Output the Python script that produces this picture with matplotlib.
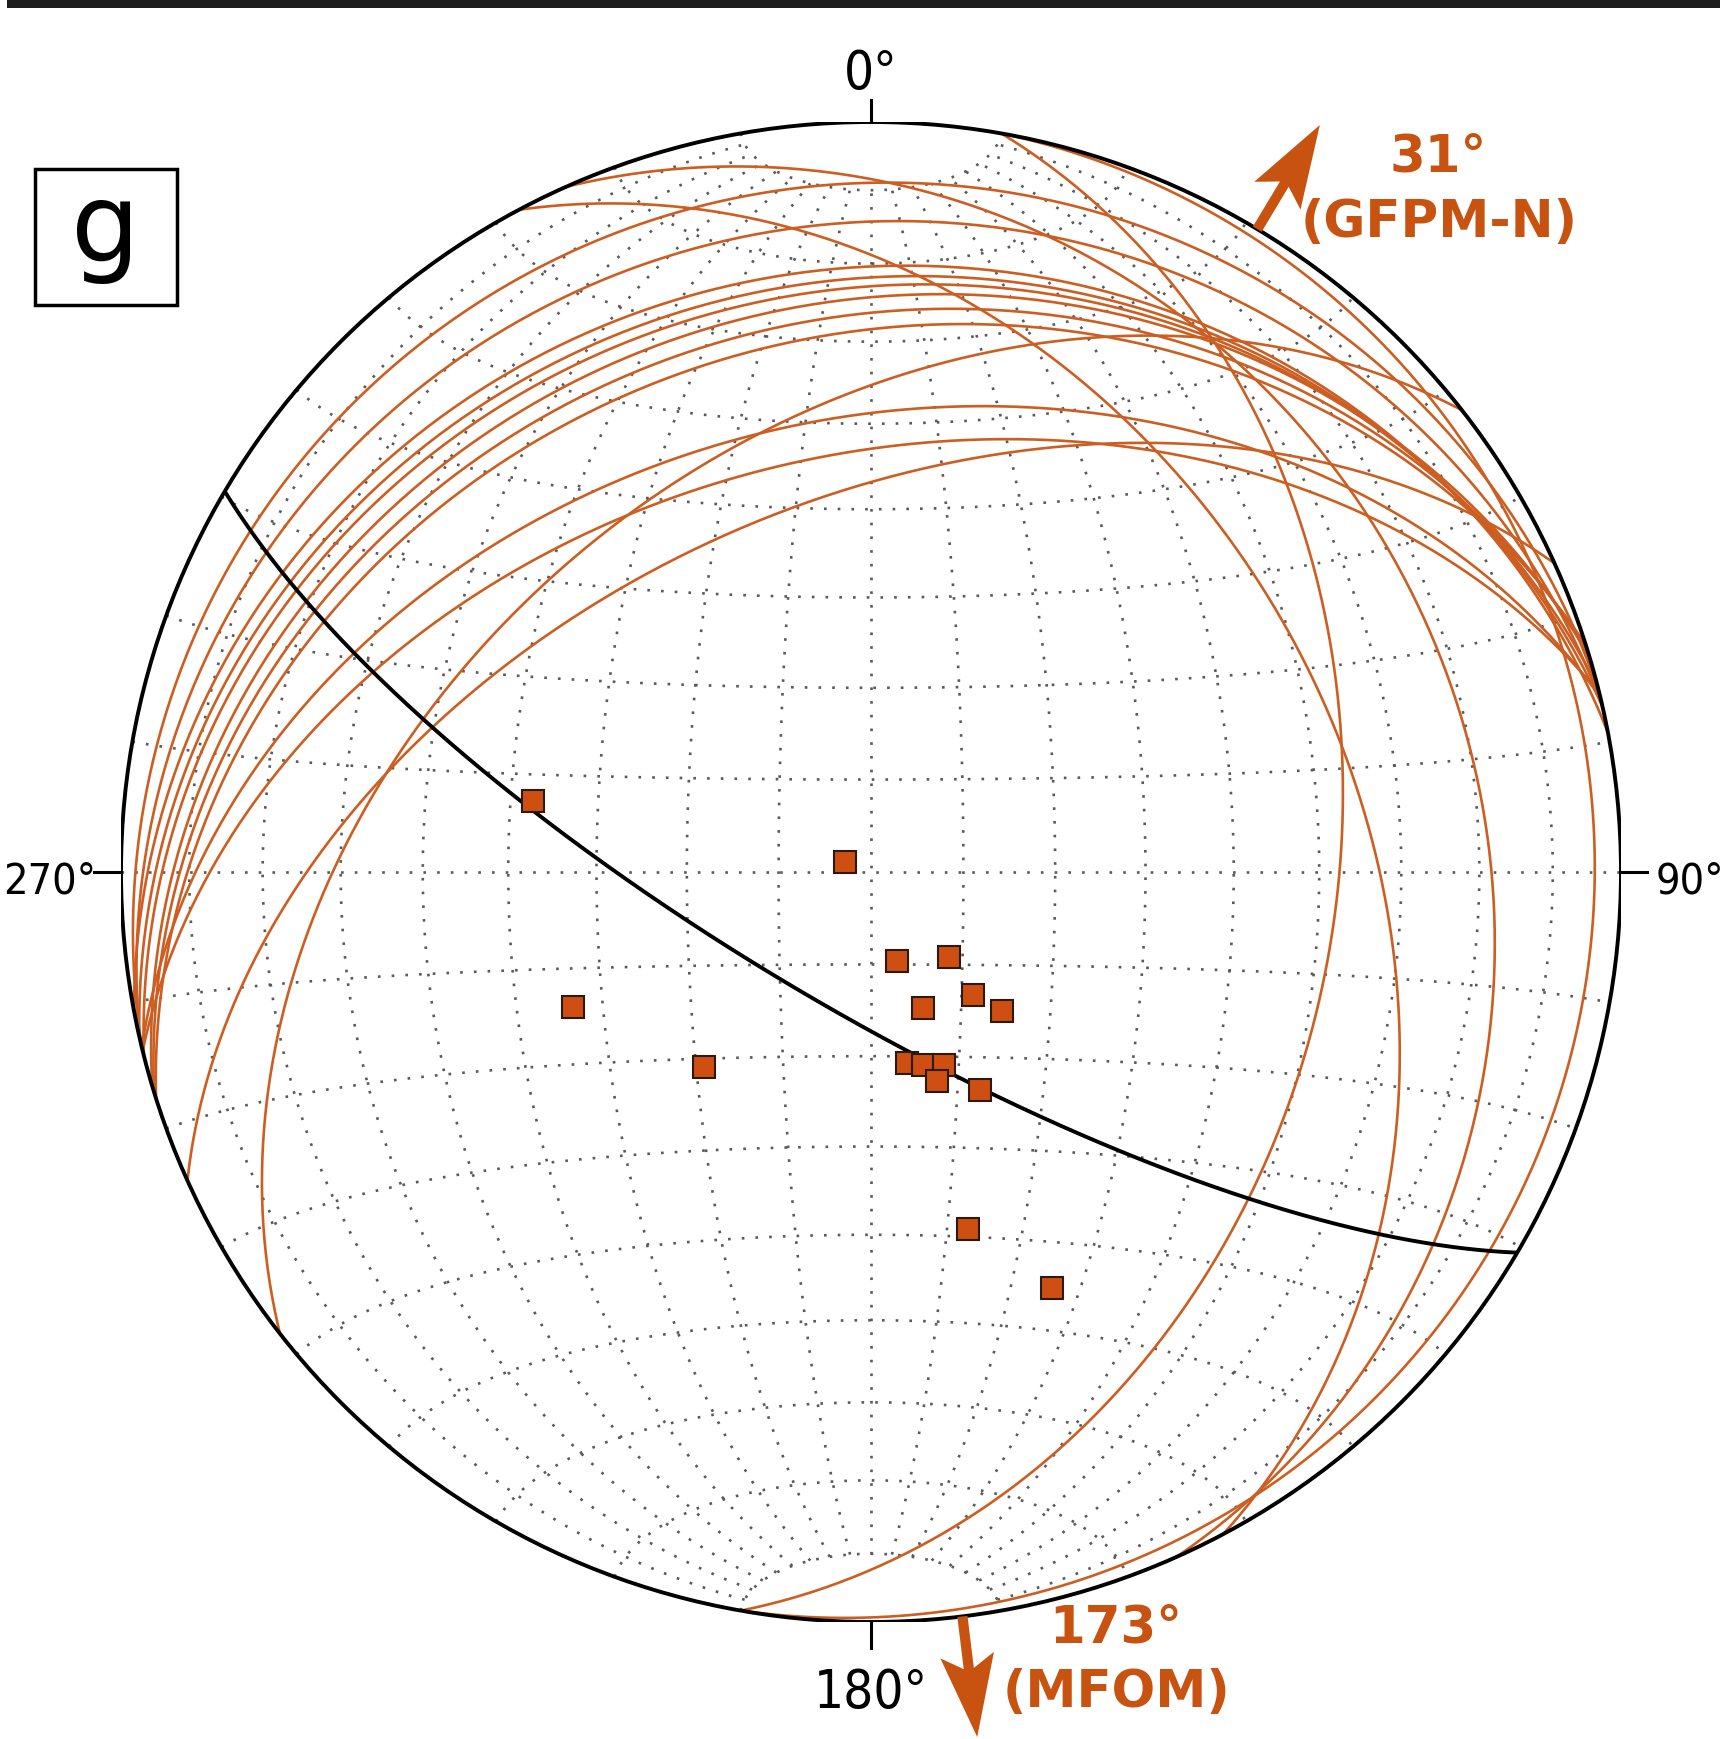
import numpy as np
import matplotlib.pyplot as plt
import matplotlib.font_manager as fm
from matplotlib.patches import Circle, Rectangle, Polygon

# orange planes: strike (right-hand rule) and dip, degrees
plane_strike = [256.4, 257.2, 259.3, 257.3, 255.8, 253.4, 252.9, 252.4,
                256.5, 256.2, 245.7, 232,
                10, 332, 336, 10]
plane_dip = [9.2, 14.7, 20.7, 22.3, 23.6, 25.3, 27.4, 29.6,
             39.5, 43.8, 49.5, 42,
             38, 36, 20, 4]

# black reference plane
ref_strike = 120.5
ref_dip = 75

# squares: trend / plunge of lineations
lin_trend = [281.9, 291.5, 163.5, 137.4, 140.4, 136.7, 159.2, 245.6,
             220.5, 169.2, 165.0, 159.3, 162.5, 153.4, 164.8, 156.5]
lin_plunge = [52.0, 87.0, 80.0, 77.5, 72.7, 69.3, 74.2, 54.1,
              62.0, 68.9, 68.3, 67.6, 66.1, 63.4, 49.2, 39.4]

# transport directions
arrow_az = [31, 173]
arrow_deg = ['31°', '173°']
arrow_name = ['(GFPM-N)', '(MFOM)']

orange = '#cc5e22'
dark_orange = '#c8520f'


def project(trend, plunge):
    # lower hemisphere equal area, unit primitive
    t = np.radians(trend)
    p = np.radians(plunge)
    r = np.sqrt(2) * np.sin((np.pi / 2 - p) / 2)
    return r * np.sin(t), r * np.cos(t)


def great_circle(strike, dip, n=400):
    s = np.radians(strike)
    d = np.radians(dip)
    a = np.linspace(0, np.pi, n)
    sv = np.array([np.sin(s), np.cos(s), 0.0])
    dd = s + np.pi / 2
    dv = np.array([np.cos(d) * np.sin(dd), np.cos(d) * np.cos(dd), np.sin(d)])
    v = np.outer(np.cos(a), sv) + np.outer(np.sin(a), dv)
    plunge = np.degrees(np.arcsin(np.clip(v[:, 2], -1, 1)))
    trend = np.degrees(np.arctan2(v[:, 0], v[:, 1]))
    return project(trend, plunge)


def net(lon, lat):
    lon = np.radians(lon)
    lat = np.radians(lat)
    k = np.sqrt(1 / (1 + np.cos(lat) * np.cos(lon)))
    return k * np.cos(lat) * np.sin(lon), k * np.sin(lat)


def arrow_poly(az, r0, r1, hl=0.11, hw=0.036, notch=0.022, sw=0.0068):
    u = np.array([np.sin(np.radians(az)), np.cos(np.radians(az))])
    v = np.array([u[1], -u[0]])
    rb = r1 - hl
    rn = rb + notch
    pts = [r0 * u + sw * v, (rn - 0.004) * u + sw * v, rb * u + hw * v, r1 * u,
           rb * u - hw * v, (rn - 0.004) * u - sw * v, r0 * u - sw * v]
    return np.array(pts)


# a narrow face for the azimuth labels if one is installed
tick_font = dict(family='Liberation Sans')
big, small = 34, 30
for f in fm.fontManager.ttflist:
    if 'Narrow' in f.name or 'Condensed' in f.name or str(f.stretch) in ('condensed', 'semi-condensed'):
        if f.style == 'normal' and f.weight in (400, 'normal', 'regular', 'Regular'):
            tick_font = dict(family=f.name, stretch=f.stretch)
            big, small = 38, 31
            break

fig = plt.figure(figsize=(17.27, 17.39), dpi=100)
ax = fig.add_axes([121 / 1727, 117 / 1739, 1500 / 1727, 1500 / 1739])
ax.set_xlim(-1, 1)
ax.set_ylim(-1, 1)
ax.set_aspect('equal')
ax.axis('off')

clip = Circle((0, 0), 1, transform=ax.transData, fill=False, lw=0)
ax.add_patch(clip)

# grid
grid_kw = dict(color='#5a5a5a', lw=1.9, ls=(0, (1, 4.2)), zorder=1)
lat_line = np.linspace(-80, 80, 200)
for lon in range(-80, 90, 10):
    x, y = net(np.full_like(lat_line, lon), lat_line)
    ax.plot(x, y, **grid_kw)
lon_line = np.linspace(-90, 90, 200)
for lat in range(-80, 90, 10):
    x, y = net(lon_line, np.full_like(lon_line, lat))
    ax.plot(x, y, **grid_kw)

# planes
for s, d in zip(plane_strike, plane_dip):
    x, y = great_circle(s, d)
    ln, = ax.plot(x, y, color=orange, lw=1.9, zorder=3)
    ln.set_clip_path(clip)

x, y = great_circle(ref_strike, ref_dip)
ln, = ax.plot(x, y, color='black', lw=2.8, zorder=4)
ln.set_clip_path(clip)

x, y = project(np.array(lin_trend), np.array(lin_plunge))
ax.plot(x, y, 's', ms=16, mfc='#cf4f12', mec='#2a1a10', mew=1.5, zorder=5)

ax.add_patch(Circle((0, 0), 1, fill=False, color='black', lw=2.8, zorder=6))

# ticks and labels
ax.plot([0, 0], [1, 1.03], color='black', lw=2.2, clip_on=False)
ax.plot([0, 0], [-1, -1.035], color='black', lw=2.2, clip_on=False)
ax.plot([-1, -1.036], [0, 0], color='black', lw=2.2, clip_on=False)
ax.plot([1, 1.035], [0, 0], color='black', lw=2.2, clip_on=False)
ax.text(0, 1.044, '0°', ha='center', va='baseline', clip_on=False,
        fontsize=big, **tick_font)
ax.text(0, -1.115, '180°', ha='center', va='baseline', clip_on=False,
        fontsize=big, **tick_font)
ax.text(-1.157, -0.028, '270°', ha='left', va='baseline', clip_on=False,
        fontsize=small, **tick_font)
ax.text(1.137, -0.028, '90°', ha='right', va='baseline', clip_on=False,
        fontsize=small, **tick_font)

# panel letter
ax.add_patch(Rectangle((-1.115, 0.756), 0.19, 0.181, fill=False, lw=2.5,
                       color='black', clip_on=False))
ax.text(-1.021, 0.815, 'g', fontsize=78, ha='center', va='baseline', clip_on=False)

# transport arrows
for az in arrow_az:
    ax.add_patch(Polygon(arrow_poly(az, 1.0, 1.162), closed=True, color=dark_orange,
                         lw=0, clip_on=False, zorder=7))
txt_kw = dict(color=dark_orange, fontsize=37, fontweight='bold', ha='center',
              va='center', clip_on=False)
ax.text(0.756, 0.952, arrow_deg[0], **txt_kw)
ax.text(0.758, 0.865, arrow_name[0], **txt_kw)
ax.text(0.327, -1.009, arrow_deg[1], **txt_kw)
ax.text(0.328, -1.095, arrow_name[1], **txt_kw)

# edge of the panel above
fig.patches.append(Rectangle((0.004, 1 - 8 / 1739), 0.992, 8 / 1739, transform=fig.transFigure,
                             color='#1e1e1e', lw=0))

fig.savefig('out.png', dpi=100, facecolor='white')
